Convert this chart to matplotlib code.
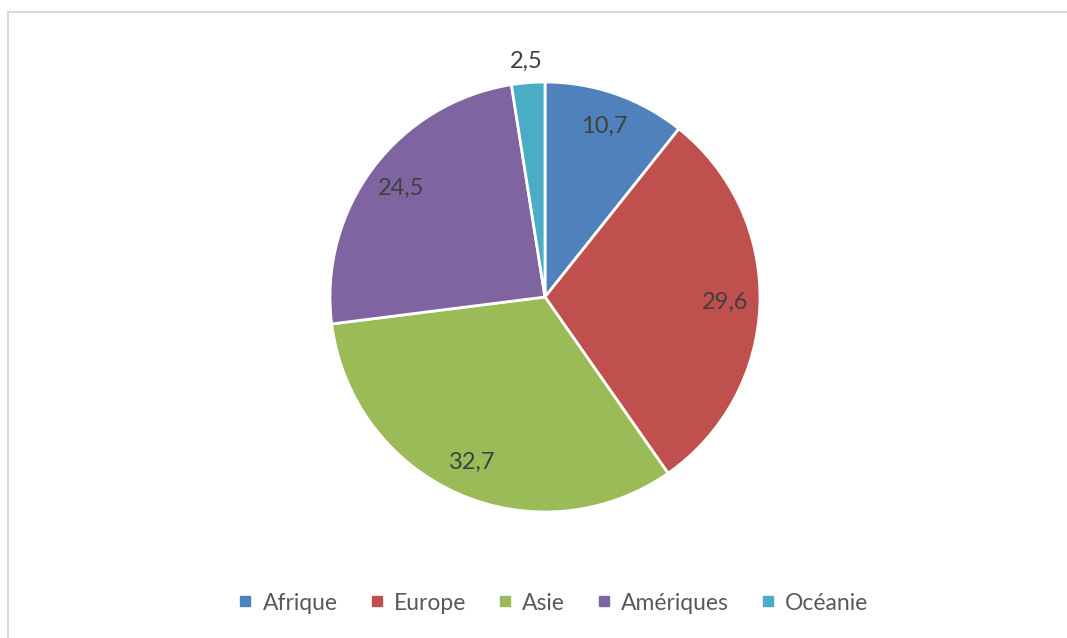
import matplotlib
matplotlib.use("Agg")
import matplotlib.pyplot as plt
from matplotlib.lines import Line2D
import numpy as np

categories = ["Afrique", "Europe", "Asie", "Amériques", "Océanie"]
values = [10.7, 29.6, 32.7, 24.5, 2.5]
value_labels = ["10,7", "29,6", "32,7", "24,5", "2,5"]
colors = ["#4F81BD", "#C0504D", "#9BBB59", "#8064A2", "#4BACC6"]
label_dist = [0.84, 0.84, 0.84, 0.84, 1.10]

plt.rcParams['font.family'] = ['Lato', 'DejaVu Sans']

fig = plt.figure(figsize=(10.67, 6.38), dpi=100)
# chart frame (top and left edges visible)
fig.add_artist(Line2D([8/1067, 1.0], [1 - 12/638, 1 - 12/638], transform=fig.transFigure,
                      color="#D9D9D9", linewidth=1.5))
fig.add_artist(Line2D([8/1067, 8/1067], [0.0, 1 - 12/638], transform=fig.transFigure,
                      color="#D9D9D9", linewidth=1.5))

ax = fig.add_axes([(545-215)/1067, (341-215)/638, 430/1067, 430/638])
wedges, _ = ax.pie(values, colors=colors, startangle=90, counterclock=False,
                   wedgeprops=dict(edgecolor="white", linewidth=2))
for w, lab, d in zip(wedges, value_labels, label_dist):
    ang = np.deg2rad((w.theta1 + w.theta2) / 2)
    ax.text(d * np.cos(ang), d * np.sin(ang), lab, ha="center", va="center",
            fontsize=17, color="#404040")
ax.set_xlim(-1, 1)
ax.set_ylim(-1, 1)
ax.set_aspect("equal")

handles = [Line2D([], [], marker="s", linestyle="", markersize=6.5,
                  markerfacecolor=c, markeredgecolor=c) for c in colors]
fig.legend(handles, categories, loc="center", bbox_to_anchor=(553/1067, 1 - 603/638),
           ncol=5, frameon=False, fontsize=16.5, labelcolor="#595959",
           handletextpad=0.4, columnspacing=1.35, handlelength=0.7)

fig.savefig("out.png", dpi=100)
